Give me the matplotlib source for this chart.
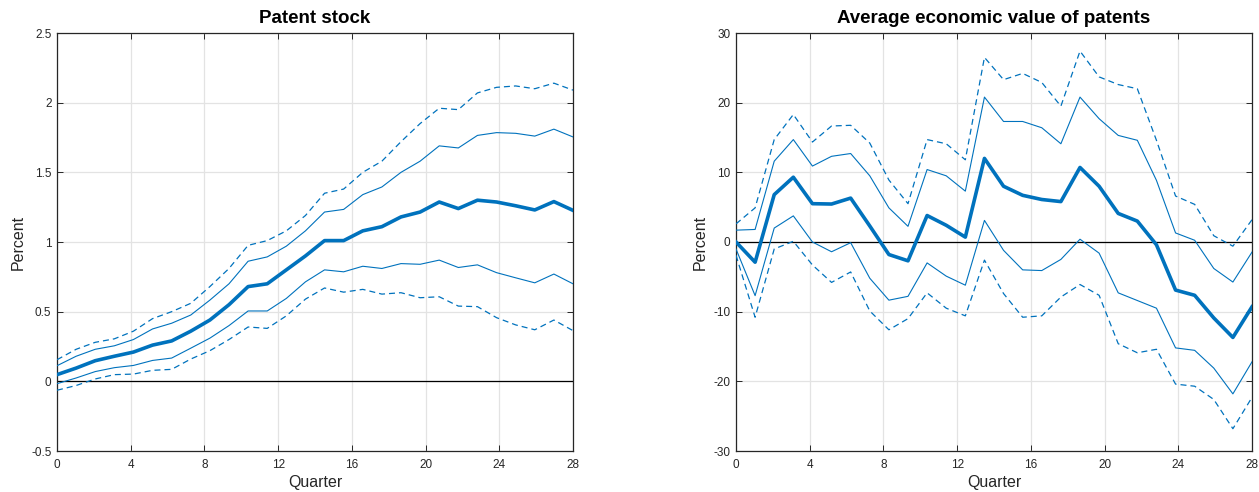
import numpy as np
import matplotlib
matplotlib.use("Agg")
import matplotlib.pyplot as plt

plt.rcParams['font.family'] = ['Liberation Sans', 'DejaVu Sans']

# Horizon: 28 response points spread over quarters 0..28
quarters = np.linspace(0, 28, 28)

# Patent stock (percent)
stock_median = [0.048, 0.095, 0.148, 0.18, 0.21, 0.26, 0.29, 0.36, 0.44, 0.55,
                0.68, 0.70, 0.80, 0.90, 1.01, 1.01, 1.08, 1.11, 1.18, 1.215,
                1.287, 1.24, 1.30, 1.287, 1.26, 1.23, 1.29, 1.227]
stock_hi68 = [0.112, 0.18, 0.23, 0.255, 0.30, 0.376, 0.417, 0.476, 0.583, 0.70,
              0.862, 0.893, 0.97, 1.08, 1.215, 1.234, 1.34, 1.395, 1.50, 1.58,
              1.69, 1.675, 1.765, 1.785, 1.78, 1.76, 1.81, 1.754]
stock_lo68 = [-0.017, 0.024, 0.07, 0.098, 0.114, 0.15, 0.167, 0.238, 0.31, 0.40,
              0.505, 0.505, 0.595, 0.714, 0.80, 0.786, 0.826, 0.81, 0.845, 0.84,
              0.87, 0.817, 0.836, 0.78, 0.743, 0.707, 0.77, 0.70]
stock_hi90 = [0.155, 0.23, 0.28, 0.305, 0.36, 0.45, 0.50, 0.56, 0.68, 0.81,
              0.976, 1.01, 1.08, 1.19, 1.35, 1.38, 1.50, 1.58, 1.72, 1.85,
              1.96, 1.95, 2.07, 2.11, 2.12, 2.10, 2.14, 2.09]
stock_lo90 = [-0.064, -0.03, 0.017, 0.048, 0.052, 0.079, 0.086, 0.16, 0.22, 0.30,
              0.39, 0.38, 0.47, 0.59, 0.67, 0.64, 0.66, 0.626, 0.636, 0.60,
              0.607, 0.54, 0.536, 0.457, 0.405, 0.37, 0.44, 0.364]

# Average economic value of patents (percent)
value_median = [0.0, -2.9, 6.8, 9.3, 5.5, 5.45, 6.3, 2.3, -1.8, -2.7,
                3.8, 2.4, 0.7, 12.0, 8.0, 6.7, 6.1, 5.8, 10.7, 8.0,
                4.1, 3.0, -0.4, -6.9, -7.65, -10.9, -13.7, -9.3]
value_hi68 = [1.7, 1.8, 11.6, 14.7, 10.9, 12.3, 12.7, 9.5, 4.9, 2.25,
              10.4, 9.5, 7.3, 20.8, 17.3, 17.3, 16.4, 14.1, 20.8, 17.7,
              15.3, 14.6, 8.85, 1.3, 0.25, -3.8, -5.75, -1.45]
value_lo68 = [-1.0, -7.7, 2.0, 3.75, 0.0, -1.4, -0.1, -5.2, -8.35, -7.8,
              -3.0, -4.9, -6.2, 3.1, -1.2, -4.0, -4.1, -2.5, 0.4, -1.6,
              -7.3, -8.4, -9.5, -15.2, -15.55, -18.1, -21.8, -17.2]
value_hi90 = [2.6, 4.9, 14.7, 18.3, 14.35, 16.65, 16.75, 14.2, 8.9, 5.5,
              14.7, 14.1, 11.8, 26.5, 23.3, 24.2, 22.9, 19.5, 27.4, 23.7,
              22.6, 22.0, 14.6, 6.6, 5.4, 0.9, -0.6, 3.2]
value_lo90 = [-1.9, -10.8, -1.0, 0.1, -3.3, -5.8, -4.3, -9.9, -12.6, -11.0,
              -7.3, -9.5, -10.6, -2.6, -7.4, -10.8, -10.6, -7.9, -6.1, -7.65,
              -14.6, -15.9, -15.4, -20.4, -20.7, -22.6, -26.8, -22.3]

x_ticks = [0, 4, 8, 12, 16, 20, 24, 28]
stock_ticks = [-0.5, 0, 0.5, 1, 1.5, 2, 2.5]
stock_tick_labels = ['-0.5', '0', '0.5', '1', '1.5', '2', '2.5']
value_ticks = [-30, -20, -10, 0, 10, 20, 30]
value_tick_labels = ['-30', '-20', '-10', '0', '10', '20', '30']

BLUE = '#0072BD'
DASH = (0, (4.8, 3.2))

fig = plt.figure(figsize=(12.59, 4.92), dpi=100)
ax1 = fig.add_axes([57 / 1259, 41 / 492, 516 / 1259, 418 / 492])
ax2 = fig.add_axes([736 / 1259, 41 / 492, 516 / 1259, 418 / 492])


def draw_panel(ax, title, med, hi68, lo68, hi90, lo90, yticks, ylabels, ylim):
    ax.axhline(0, color='black', lw=0.9, zorder=2)
    ax.plot(quarters, hi90, color=BLUE, lw=0.9, ls=DASH, zorder=3)
    ax.plot(quarters, lo90, color=BLUE, lw=0.9, ls=DASH, zorder=3)
    ax.plot(quarters, hi68, color=BLUE, lw=0.8, zorder=3)
    ax.plot(quarters, lo68, color=BLUE, lw=0.8, zorder=3)
    ax.plot(quarters, med, color=BLUE, lw=2.6, zorder=4)
    ax.set_xlim(0, 28)
    ax.set_ylim(*ylim)
    ax.set_xticks(x_ticks)
    ax.set_xticklabels([str(t) for t in x_ticks])
    ax.set_yticks(yticks)
    ax.set_yticklabels(ylabels)
    ax.grid(True, color='#e3e3e3', lw=0.9, zorder=0)
    ax.set_axisbelow(True)
    ax.tick_params(direction='in', length=4.5, width=0.7, colors='#262626',
                   labelsize=8.5, top=True, right=True, pad=4)
    ax.tick_params(axis='x', pad=6)
    for s in ax.spines.values():
        s.set_color('#262626')
        s.set_linewidth(0.9)
    ax.set_title(title, fontsize=13.5, fontweight='bold', pad=7)
    ax.set_xlabel('Quarter', fontsize=11.5, color='#262626', labelpad=3)
    ax.set_ylabel('Percent', fontsize=11.5, color='#262626', labelpad=4)


draw_panel(ax1, 'Patent stock', stock_median, stock_hi68, stock_lo68,
           stock_hi90, stock_lo90, stock_ticks, stock_tick_labels, (-0.5, 2.5))
draw_panel(ax2, 'Average economic value of patents', value_median, value_hi68,
           value_lo68, value_hi90, value_lo90, value_ticks, value_tick_labels,
           (-30, 30))

fig.savefig('out.png', dpi=100)
